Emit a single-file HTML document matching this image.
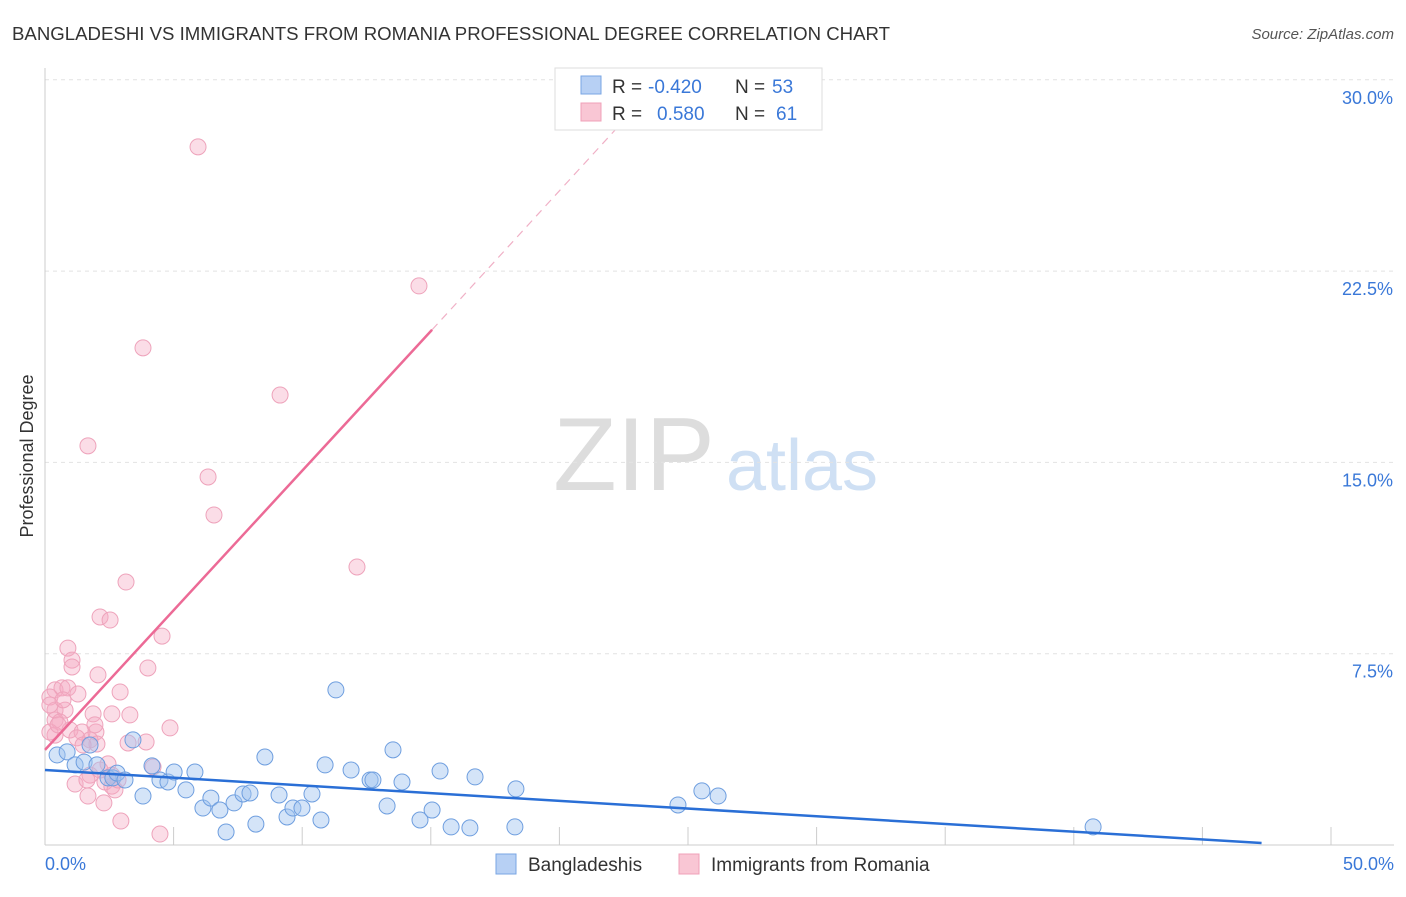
<!DOCTYPE html>
<html><head><meta charset="utf-8"><style>
body{margin:0;background:#fff;font-family:"Liberation Sans",sans-serif;}
svg text{font-family:"Liberation Sans",sans-serif;}
</style></head><body>
<svg id="chart" width="1406" height="892">
<text x="12" y="40" font-size="18" fill="#333" textLength="878" lengthAdjust="spacingAndGlyphs">BANGLADESHI VS IMMIGRANTS FROM ROMANIA PROFESSIONAL DEGREE CORRELATION CHART</text>
<text x="1394" y="39" font-size="15" fill="#555" font-style="italic" text-anchor="end">Source: ZipAtlas.com</text>
<text transform="translate(33,456) rotate(-90)" font-size="18" fill="#333" text-anchor="middle">Professional Degree</text>
<g>
<text x="634" y="490" font-size="104" fill="#ddd" font-family="Liberation Serif,serif" text-anchor="middle">ZIP</text>
<text x="802" y="490" font-size="72" fill="#cfe0f4" text-anchor="middle">atlas</text>
</g>
<g id="grid"></g><g id="pts"></g><g id="lines"></g>
<g>
<rect x="555" y="68" width="267" height="62" fill="#fff" stroke="#ddd"/>
<rect x="581" y="76" width="20" height="18" fill="#b7d0f4" stroke="#7aa6e3"/>
<rect x="581" y="103" width="20" height="18" fill="#f9c6d4" stroke="#f0a0b8"/>
<text x="612" y="93" font-size="19" fill="#333">R =</text>
<text x="648" y="93" font-size="19" fill="#3a78d8">-0.420</text>
<text x="735" y="93" font-size="19" fill="#333">N =</text>
<text x="772" y="93" font-size="19" fill="#3a78d8">53</text>
<text x="612" y="120" font-size="19" fill="#333">R =</text>
<text x="657" y="120" font-size="19" fill="#3a78d8">0.580</text>
<text x="735" y="120" font-size="19" fill="#333">N =</text>
<text x="776" y="120" font-size="19" fill="#3a78d8">61</text>
</g>
<g>
<rect x="496" y="854" width="20" height="20" fill="#b7d0f4" stroke="#7aa6e3"/>
<text x="528" y="871" font-size="19" fill="#333">Bangladeshis</text>
<rect x="679" y="854" width="20" height="20" fill="#f9c6d4" stroke="#f0a0b8"/>
<text x="711" y="871" font-size="19" fill="#333">Immigrants from Romania</text>
</g>
</svg>
<script>
const yTicks=[7.5,15,22.5,30];
const yTickLabels=["7.5%","15.0%","22.5%","30.0%"];
const xTickLabels=["0.0%","50.0%"];
const blueX=[0.47,0.86,1.17,1.52,1.75,2.02,2.45,2.64,2.80,3.11,3.42,3.81,4.16,4.47,4.78,5.02,5.48,5.83,6.14,6.45,6.80,7.04,7.35,7.70,7.97,8.20,8.55,9.10,9.41,9.64,9.99,10.38,10.73,10.89,11.31,11.90,12.64,12.75,13.30,13.53,13.88,14.58,15.05,15.36,15.79,16.52,16.72,18.27,18.31,24.61,25.54,26.17,40.75];
const blueY=[3.53,3.65,3.14,3.25,3.92,3.14,2.63,2.63,2.82,2.55,4.12,1.92,3.10,2.55,2.47,2.86,2.16,2.86,1.45,1.84,1.37,0.51,1.65,2.00,2.04,0.82,3.45,1.96,1.10,1.45,1.45,2.00,0.98,3.14,6.08,2.94,2.55,2.55,1.53,3.73,2.47,0.98,1.37,2.90,0.71,0.67,2.67,0.71,2.20,1.57,2.12,1.92,0.71];
const pinkX=[5.95,14.54,3.81,9.14,1.67,6.34,6.57,3.15,12.13,2.14,2.53,4.55,0.89,1.05,4.00,1.05,2.06,0.39,0.66,0.89,2.92,1.28,0.19,0.39,0.78,1.87,2.60,3.30,0.39,0.58,4.86,0.97,1.44,1.98,1.24,1.75,2.02,3.23,3.93,0.39,0.19,2.45,1.75,1.17,2.33,2.60,2.72,4.20,1.67,2.29,2.95,4.47,0.19,0.51,1.48,2.14,0.70,1.63,2.60,2.84,1.94];
const pinkY=[27.37,21.92,19.49,17.64,15.65,14.43,12.94,10.31,10.90,8.94,8.82,8.19,7.72,7.25,6.94,6.98,6.67,6.08,6.16,6.16,6.00,5.92,5.80,5.29,5.29,5.14,5.14,5.10,4.90,4.82,4.59,4.51,4.43,4.43,4.20,4.12,3.96,4.00,4.04,4.31,4.43,3.18,2.74,2.39,2.47,2.31,2.16,3.06,1.92,1.65,0.94,0.43,5.49,4.71,3.92,2.94,5.69,2.55,2.74,2.55,4.71];
const blueTrend=[[0,2.94],[47.3,0.08]];
const pinkTrend=[[0,3.73],[15.05,20.2]];
const pinkTrendDash=[[15.05,20.2],[22.5,28.4]];
const NS="http://www.w3.org/2000/svg";
const X0=45,X1=1331,Y0=845,PXY=191.3/7.5;
const sx=v=>X0+(v/50)*(X1-X0), sy=v=>Y0-v*PXY;
function mk(t,a,p){const e=document.createElementNS(NS,t);for(const k in a)e.setAttribute(k,a[k]);p.appendChild(e);return e;}
const grid=document.getElementById('grid');
yTicks.forEach((t,i)=>{
 const l=mk('line',{x1:X0,x2:1394,y1:sy(t),y2:sy(t),stroke:'#e2e2e2','stroke-dasharray':'4,4'},grid);
 
 
 const tx=mk('text',{x:1393,y:sy(t)+24,'font-size':18,fill:'#3a78d8','text-anchor':'end'},grid);tx.textContent=yTickLabels[i];
 
 
});
const ax=mk('line',{x1:X0,x2:X0,y1:68,y2:Y0,stroke:'#ccc'},grid);


const bx=mk('line',{x1:X0,x2:1394,y1:Y0,y2:Y0,stroke:'#ccc'},grid);


for(let i=1;i<=10;i++){const t=mk('line',{x1:sx(i*5),x2:sx(i*5),y1:Y0,y2:Y0-18,stroke:'#ccc'},grid);
 
 }
const xl0=mk('text',{x:45,y:870,'font-size':18,fill:'#3a78d8'},grid);xl0.textContent=xTickLabels[0];


const xl1=mk('text',{x:1394,y:870,'font-size':18,fill:'#3a78d8','text-anchor':'end'},grid);xl1.textContent=xTickLabels[1];


const pts=document.getElementById('pts');
pinkX.forEach((v,i)=>{const c=mk('circle',{cx:sx(v),cy:sy(pinkY[i]),r:8,fill:'rgba(245,170,195,0.4)',stroke:'#eea3bb','stroke-width':1},pts);
 
 });
blueX.forEach((v,i)=>{const c=mk('circle',{cx:sx(v),cy:sy(blueY[i]),r:8,fill:'rgba(160,195,240,0.45)',stroke:'#6e9edf','stroke-width':1},pts);
 
 });
const ln=document.getElementById('lines');
const b=mk('line',{x1:sx(blueTrend[0][0]),y1:sy(blueTrend[0][1]),x2:sx(blueTrend[1][0]),y2:sy(blueTrend[1][1]),stroke:'#2a6fd6','stroke-width':2.5},ln);


const p=mk('line',{x1:sx(pinkTrend[0][0]),y1:sy(pinkTrend[0][1]),x2:sx(pinkTrend[1][0]),y2:sy(pinkTrend[1][1]),stroke:'#ec6a96','stroke-width':2.5},ln);


const pd=mk('line',{x1:sx(pinkTrendDash[0][0]),y1:sy(pinkTrendDash[0][1]),x2:sx(pinkTrendDash[1][0]),y2:sy(pinkTrendDash[1][1]),stroke:'#f0b0c6','stroke-width':1.2,'stroke-dasharray':'8,6'},ln);


</script>
</body></html>
